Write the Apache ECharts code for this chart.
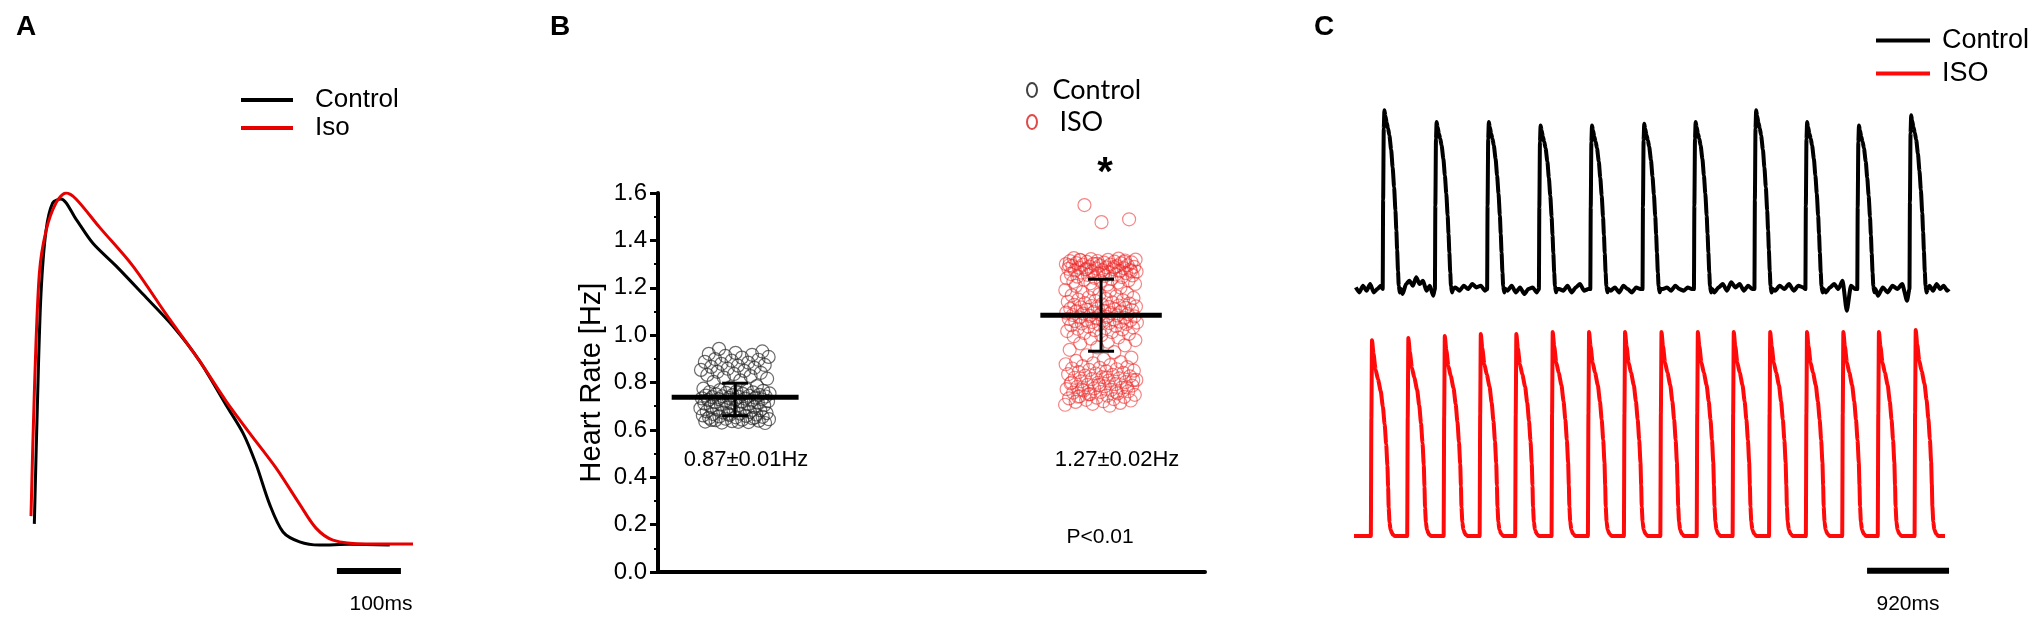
<!DOCTYPE html>
<html>
<head>
<meta charset="utf-8">
<title>Action potentials and heart rate</title>
<script src="https://cdn.jsdelivr.net/npm/echarts@6.0.0/dist/echarts.min.js"></script>
<style>
  html, body { margin: 0; padding: 0; background: #fff; }
  #main { width: 2033px; height: 617px; }
</style>
</head>
<body>
<div id="main"></div>
<script>
// ---- A: averaged action potential, time in ms, amplitude normalised to the Iso peak
var apControlMs  = [5.2, 10.5, 15.6, 23.4, 33.9, 46.9, 70.3, 96.4, 132.8, 174.7, 221.6, 263.3, 304.7, 331.3, 351.6, 372.8, 393.8, 419.7, 450.9, 498, 560.5];
var apControlAmp = [0.06, 0.432, 0.713, 0.892, 0.972, 0.983, 0.926, 0.858, 0.793, 0.713, 0.622, 0.523, 0.398, 0.318, 0.230, 0.116, 0.037, 0.009, 0, 0.002, 0];
var apIsoMs      = [0, 5.2, 13, 23.4, 39.1, 54.7, 70.3, 106.9, 159, 211, 263.3, 304.7, 341.6, 382.8, 419.7, 445.3, 471.9, 523.4, 596.9];
var apIsoAmp     = [0.082, 0.432, 0.770, 0.892, 0.972, 1.0, 0.983, 0.903, 0.793, 0.656, 0.523, 0.409, 0.318, 0.219, 0.116, 0.048, 0.014, 0.003, 0.003];
var apScaleBarMs = [478, 578];

// ---- B: heart rate per cell [Hz]
var groups = ['Control', 'ISO'];
var hrControl = [
  0.942,0.931,0.925,0.921,0.917,0.912,0.908,0.905,0.899,0.896,0.892,0.887,0.884,0.879,0.874,0.871,0.866,0.862,0.858,0.853,
  0.849,0.845,0.841,0.836,0.832,0.827,0.821,0.816,0.809,0.803,
  0.785,0.779,0.774,0.771,0.768,0.765,0.762,0.760,0.758,0.756,0.754,0.752,0.750,0.748,0.747,0.745,0.744,0.742,0.741,0.739,
  0.738,0.736,0.735,0.733,0.732,0.730,0.729,0.727,0.726,0.724,0.722,0.721,0.719,0.717,0.715,0.713,0.711,0.709,0.707,0.704,
  0.702,0.699,0.697,0.694,0.691,0.689,0.686,0.683,0.681,0.678,0.676,0.673,0.671,0.669,0.667,0.665,0.663,0.661,0.659,0.657,
  0.655,0.653,0.651,0.649,0.647,0.645,0.643,0.641,0.639,0.637,0.635,0.633,0.631,0.629,0.634,0.642,0.652,0.668
];
var hrIso = [
  1.549,1.489,1.477,
  1.325,1.323,1.321,1.319,1.318,1.316,1.315,1.313,1.312,1.310,1.309,1.307,1.306,1.304,1.303,1.301,1.300,1.298,1.297,1.295,
  1.294,1.292,1.291,1.289,1.288,1.286,1.285,1.283,1.282,1.280,1.279,1.277,1.276,1.274,1.273,1.271,1.270,1.268,1.266,1.264,
  1.262,1.260,1.258,1.256,1.254,1.252,1.250,1.247,1.245,1.242,1.240,1.237,1.234,1.231,1.228,1.225,1.222,1.219,1.216,1.213,
  1.318,1.309,1.301,1.295,1.287,1.279,1.270,1.262,
  1.208,1.201,1.195,1.190,1.186,1.181,1.177,1.172,1.168,1.164,1.160,1.157,1.153,1.150,1.147,1.144,1.141,1.138,1.135,1.133,
  1.130,1.128,1.125,1.123,1.121,1.119,1.117,1.115,1.113,1.111,1.109,1.107,1.105,1.103,1.101,1.099,1.097,1.095,1.093,1.091,
  1.089,1.087,1.085,1.083,1.081,1.079,1.077,1.075,1.073,1.071,1.069,1.067,1.065,1.063,1.061,1.059,1.057,1.055,1.053,1.051,
  1.049,1.047,1.045,1.042,1.039,1.036,1.033,1.030,1.027,1.024,1.021,1.017,1.013,1.009,1.005,1.000,0.995,0.990,0.985,0.979,
  0.972,0.965,0.957,0.948,0.938,0.928,
  0.915,0.905,0.897,0.891,0.886,0.881,0.877,0.873,0.869,0.865,0.862,0.859,0.856,0.853,0.850,0.847,0.844,0.841,0.838,0.835,
  0.832,0.829,0.826,0.823,0.820,0.817,0.814,0.811,0.808,0.805,0.802,0.799,0.796,0.793,0.790,0.787,0.784,0.781,0.778,0.775,
  0.772,0.769,0.766,0.763,0.760,0.757,0.754,0.751,0.748,0.745,0.742,0.739,0.736,0.733,0.730,0.727,0.724,0.721,0.718,0.714,
  0.710,0.706,0.702,0.770,0.780,0.790,0.800,0.760,0.750,0.810,0.820,0.740
];
var hrMean   = [0.738, 1.084];
var hrSdLow  = [0.660, 0.932];
var hrSdHigh = [0.797, 1.236];
var hrTicks  = [0, 0.2, 0.4, 0.6, 0.8, 1.0, 1.2, 1.4, 1.6];
var hrStatText = ['0.87\u00b10.01Hz', '1.27\u00b10.02Hz'];

// ---- C: spontaneous action potentials, time in ms
var ctlOnsetMs = [322, 908, 1494, 2075, 2652, 3238, 3815, 4494, 5066, 5648, 6234];
var ctlPeak    = [1.07, 1.0, 1.0, 0.98, 0.98, 0.99, 1.0, 1.07, 1.0, 0.98, 1.04];
var ctlBeatMs  = [0, 5, 12, 19, 30, 45, 60, 75, 95, 112, 128, 143, 153, 162, 172, 180, 192, 205];
var ctlBeatAmp = [0, 0.5, 0.9, 1.0, 0.97, 0.93, 0.9, 0.86, 0.78, 0.68, 0.57, 0.44, 0.33, 0.22, 0.1, 0.02, -0.02, 0];
var ctlNoise = [
  [0.01,-0.02,0.02,-0.01,0.03,-0.02,0.0,0.02],
  [-0.03,0.03,0.05,0.02,0.07,0.03,0.05,-0.01,0.02,-0.04],
  [0.01,-0.01,0.02,0.0,0.03,0.01,0.02,-0.01],
  [-0.01,0.02,-0.02,0.01,-0.03,0.0,0.01,-0.02],
  [0.0,-0.01,0.02,-0.02,0.01,0.03,-0.01,0.0],
  [-0.01,0.01,-0.02,0.02,0.0,-0.02,0.01,0.0],
  [0.0,0.01,-0.01,0.02,0.0,-0.01,0.01,0.0],
  [-0.02,0.01,0.03,-0.01,0.04,0.01,0.03,-0.01,0.02,0.0],
  [-0.01,0.02,0.0,0.03,-0.01,0.02,0.01],
  [-0.02,0.01,0.03,0.0,0.05,-0.13,0.02,0.0],
  [-0.04,0.01,-0.02,0.02,0.0,0.03,-0.07],
  [0.02,-0.01,0.03,0.0,0.02,-0.01]
];
var ctlEndMs = 6678;
var isoOnsetMs = [189, 597, 1006, 1410, 1809, 2217, 2625, 3029, 3438, 3846, 4249, 4658, 5071, 5479, 5878, 6291];
var isoPeak    = [0.96, 0.97, 0.98, 0.99, 0.99, 1.0, 1.0, 1.0, 1.0, 1.0, 1.0, 1.0, 1.0, 1.0, 1.0, 1.01];
var isoBeatMs  = [0, 6, 13, 30, 53, 80, 111, 135, 155, 172, 186, 194, 200, 210, 222, 245, 266];
var isoBeatAmp = [0, 0.6, 1.0, 0.93, 0.85, 0.8, 0.74, 0.66, 0.57, 0.47, 0.36, 0.25, 0.145, 0.07, 0.03, 0.008, 0];
var isoEndMs = 6633;
var traceScaleBarMs = [5758, 6678];

var black = '#000';
var redA = '#e60000';
var redC = '#ff0a0a';

function pairs(xs, ys) {
  return xs.map(function (x, i) { return [x, ys[i]]; });
}

// place each recorded beat at its onset; typed baseline samples fill the gaps
function buildTrace(onsets, peaks, beatMs, beatAmp, noise, endMs) {
  var pts = [];
  var beatLen = beatMs[beatMs.length - 1];
  var pushGap = function (from, to, vals) {
    if (!vals || !vals.length) { pts.push([from, 0]); return; }
    vals.forEach(function (v, j) {
      pts.push([from + (to - from) * (j + 0.5) / vals.length, v]);
    });
  };
  onsets.forEach(function (t0, k) {
    var from = k === 0 ? 0 : onsets[k - 1] + beatLen;
    pushGap(from, t0, noise && noise[k]);
    beatMs.forEach(function (dt, j) {
      pts.push([t0 + dt, beatAmp[j] * peaks[k]]);
    });
  });
  pushGap(onsets[onsets.length - 1] + beatLen, endMs, noise && noise[onsets.length]);
  pts.push([endMs, 0]);
  return pts;
}

// column scatter: spread points evenly across the column width
var groupX = [14.1, 81.0];
var spreadHalf = [6.4, 6.6];
var meanHalf = [11.6, 11.1];
function column(values, g) {
  return values.map(function (v, i) {
    var f = (i * 0.618034 + 0.27) % 1;
    return [groupX[g] + (f * 2 - 1) * spreadHalf[g], v];
  });
}

var myChart = echarts.init(document.getElementById('main'), null, { renderer: 'canvas' });

var arial = 'Liberation Sans';
var hidden = { show: false };

var option = {
  animation: false,
  backgroundColor: '#fff',
  grid: [
    { left: 31, top: 193, width: 384, height: 387.2 },
    { left: 658, top: 193, width: 547, height: 379 },
    { left: 1354, top: 97, width: 597, height: 233.8 },
    { left: 1354, top: 321.8, width: 597, height: 265.2 }
  ],
  xAxis: [
    { gridIndex: 0, type: 'value', min: 0, max: 600, show: false },
    {
      gridIndex: 1, type: 'value', min: 0, max: 100,
      axisLine: { show: true, onZero: false, lineStyle: { color: black, width: 4 } },
      axisTick: hidden, axisLabel: hidden, splitLine: hidden
    },
    { gridIndex: 2, type: 'value', min: 0, max: 6700, show: false },
    { gridIndex: 3, type: 'value', min: 0, max: 6700, show: false }
  ],
  yAxis: [
    { gridIndex: 0, type: 'value', min: -0.1, max: 1.0, show: false },
    {
      gridIndex: 1, type: 'value', min: hrTicks[0], max: hrTicks[hrTicks.length - 1], interval: 0.2,
      name: 'Heart Rate [Hz]', nameLocation: 'middle', nameGap: 52,
      nameTextStyle: { fontFamily: arial, fontSize: 29, color: black },
      axisLine: { show: true, lineStyle: { color: black, width: 4 } },
      axisTick: { show: true, length: 8, lineStyle: { color: black, width: 3 } },
      minorTick: { show: true, splitNumber: 2, length: 4, lineStyle: { color: black, width: 2 } },
      axisLabel: {
        fontFamily: arial, fontSize: 24, color: black, margin: 11,
        formatter: function (v) { return v.toFixed(1); }
      },
      splitLine: hidden
    },
    { gridIndex: 2, type: 'value', min: -0.25, max: 1.15, show: false },
    { gridIndex: 3, type: 'value', min: -0.25, max: 1.05, show: false }
  ],
  legend: [
    {
      left: 241, top: 86, orient: 'vertical', padding: 0, itemGap: 0,
      itemWidth: 52, itemHeight: 4, icon: 'rect', selectedMode: false,
      data: ['A Control', 'A Iso'],
      formatter: function (n) { return n.slice(2); },
      textStyle: { fontFamily: arial, fontSize: 26, color: black, lineHeight: 28, padding: [0, 0, 0, 17] }
    },
    {
      left: 1026, top: 74, orient: 'vertical', padding: 0, itemGap: 0,
      itemWidth: 11, itemHeight: 14, selectedMode: false,
      data: [
        { name: 'B Control', icon: 'path://M5,0C7.8,0,10,3.1,10,7C10,10.9,7.8,14,5,14C2.2,14,0,10.9,0,7C0,3.1,2.2,0,5,0Z',
          itemStyle: { color: 'rgba(0,0,0,0)', borderColor: '#111', borderWidth: 2 } },
        { name: 'B ISO', icon: 'path://M5,0C7.8,0,10,3.1,10,7C10,10.9,7.8,14,5,14C2.2,14,0,10.9,0,7C0,3.1,2.2,0,5,0Z',
          itemStyle: { color: 'rgba(0,0,0,0)', borderColor: '#d91a1a', borderWidth: 2 } }
      ],
      formatter: function (n) { return n === 'B ISO' ? ' ISO' : 'Control'; },
      textStyle: { fontFamily: 'Lato', fontSize: 27, color: black, lineHeight: 32, padding: [0, 0, 0, 10] }
    },
    {
      left: 1876, top: 24, orient: 'vertical', padding: 0, itemGap: 0,
      itemWidth: 54, itemHeight: 4, icon: 'rect', selectedMode: false,
      data: ['C Control', 'C ISO'],
      formatter: function (n) { return n.slice(2); },
      textStyle: { fontFamily: arial, fontSize: 27, color: black, lineHeight: 33, padding: [0, 0, 0, 7] }
    }
  ],
  series: [
    {
      name: 'A Control', type: 'line', xAxisIndex: 0, yAxisIndex: 0,
      data: pairs(apControlMs, apControlAmp), showSymbol: false, symbol: 'none',
      smooth: 0.3,
      itemStyle: { color: black }, lineStyle: { color: black, width: 3 }, z: 3
    },
    {
      name: 'A Iso', type: 'line', xAxisIndex: 0, yAxisIndex: 0,
      data: pairs(apIsoMs, apIsoAmp), showSymbol: false, symbol: 'none',
      smooth: 0.3,
      itemStyle: { color: redA }, lineStyle: { color: redA, width: 3 }, z: 4
    },
    {
      name: 'A scale', type: 'line', xAxisIndex: 0, yAxisIndex: 0,
      data: [[apScaleBarMs[0], -0.074], [apScaleBarMs[1], -0.074]],
      symbol: 'none', silent: true, lineStyle: { color: black, width: 6, cap: 'butt' }
    },
    {
      name: 'B Control', type: 'scatter', xAxisIndex: 1, yAxisIndex: 1,
      data: column(hrControl, 0), symbol: 'circle', symbolSize: 13,
      itemStyle: { color: 'rgba(255,255,255,0)', borderColor: 'rgba(40,40,40,0.85)', borderWidth: 1.2 }
    },
    {
      name: 'B ISO', type: 'scatter', xAxisIndex: 1, yAxisIndex: 1,
      data: column(hrIso, 1), symbol: 'circle', symbolSize: 13,
      itemStyle: { color: 'rgba(255,255,255,0)', borderColor: 'rgba(236,40,40,0.7)', borderWidth: 1.2 }
    },
    {
      name: 'B mean', type: 'custom', xAxisIndex: 1, yAxisIndex: 1, z: 5, silent: true,
      data: groups.map(function (g, i) { return [i, hrMean[i], hrSdLow[i], hrSdHigh[i]]; }),
      renderItem: function (params, api) {
        var g = api.value(0);
        var cx = groupX[g];
        var m1 = api.coord([cx - meanHalf[g], api.value(1)]);
        var m2 = api.coord([cx + meanHalf[g], api.value(1)]);
        var lo = api.coord([cx, api.value(2)]);
        var hi = api.coord([cx, api.value(3)]);
        var cap = 13;
        var st = { stroke: black, lineWidth: 3 };
        return {
          type: 'group',
          children: [
            { type: 'line', shape: { x1: lo[0], y1: lo[1], x2: hi[0], y2: hi[1] }, style: st },
            { type: 'line', shape: { x1: lo[0] - cap, y1: lo[1], x2: lo[0] + cap, y2: lo[1] }, style: st },
            { type: 'line', shape: { x1: hi[0] - cap, y1: hi[1], x2: hi[0] + cap, y2: hi[1] }, style: st },
            { type: 'line', shape: { x1: m1[0], y1: m1[1], x2: m2[0], y2: m2[1] }, style: { stroke: black, lineWidth: 5 } }
          ]
        };
      }
    },
    {
      name: 'C Control', type: 'line', xAxisIndex: 2, yAxisIndex: 2,
      data: buildTrace(ctlOnsetMs, ctlPeak, ctlBeatMs, ctlBeatAmp, ctlNoise, ctlEndMs),
      showSymbol: false, symbol: 'none', smooth: 0.2, smoothMonotone: 'x',
      itemStyle: { color: black }, lineStyle: { color: black, width: 4 }
    },
    {
      name: 'C ISO', type: 'line', xAxisIndex: 3, yAxisIndex: 3,
      data: buildTrace(isoOnsetMs, isoPeak, isoBeatMs, isoBeatAmp, null, isoEndMs),
      showSymbol: false, symbol: 'none', smooth: 0.2, smoothMonotone: 'x',
      itemStyle: { color: redC }, lineStyle: { color: redC, width: 4 }
    },
    {
      name: 'C scale', type: 'line', xAxisIndex: 3, yAxisIndex: 3,
      data: [[traceScaleBarMs[0], -0.17], [traceScaleBarMs[1], -0.17]],
      symbol: 'none', silent: true, lineStyle: { color: black, width: 6, cap: 'butt' }
    }
  ],
  graphic: [
    { type: 'text', x: 26, y: 27, style: { text: 'A', font: 'bold 28px ' + arial, fill: black, align: 'center', verticalAlign: 'middle' } },
    { type: 'text', x: 560, y: 27, style: { text: 'B', font: 'bold 28px ' + arial, fill: black, align: 'center', verticalAlign: 'middle' } },
    { type: 'text', x: 1324, y: 27, style: { text: 'C', font: 'bold 28px ' + arial, fill: black, align: 'center', verticalAlign: 'middle' } },
    { type: 'text', x: 381, y: 604, style: { text: '100ms', font: '21px ' + arial, fill: black, align: 'center', verticalAlign: 'middle' } },
    { type: 'text', x: 1908, y: 604, style: { text: '920ms', font: '21px ' + arial, fill: black, align: 'center', verticalAlign: 'middle' } },
    { type: 'text', x: 746, y: 460, style: { text: hrStatText[0], font: '22px ' + arial, fill: black, align: 'center', verticalAlign: 'middle' } },
    { type: 'text', x: 1117, y: 460, style: { text: hrStatText[1], font: '22px ' + arial, fill: black, align: 'center', verticalAlign: 'middle' } },
    { type: 'text', x: 1100, y: 537, style: { text: 'P<0.01', font: '21px ' + arial, fill: black, align: 'center', verticalAlign: 'middle' } },
    { type: 'text', x: 1105, y: 174, style: { text: '*', font: 'bold 40px ' + arial, fill: black, align: 'center', verticalAlign: 'middle' } }
  ]
};

myChart.setOption(option);
</script>
</body>
</html>
